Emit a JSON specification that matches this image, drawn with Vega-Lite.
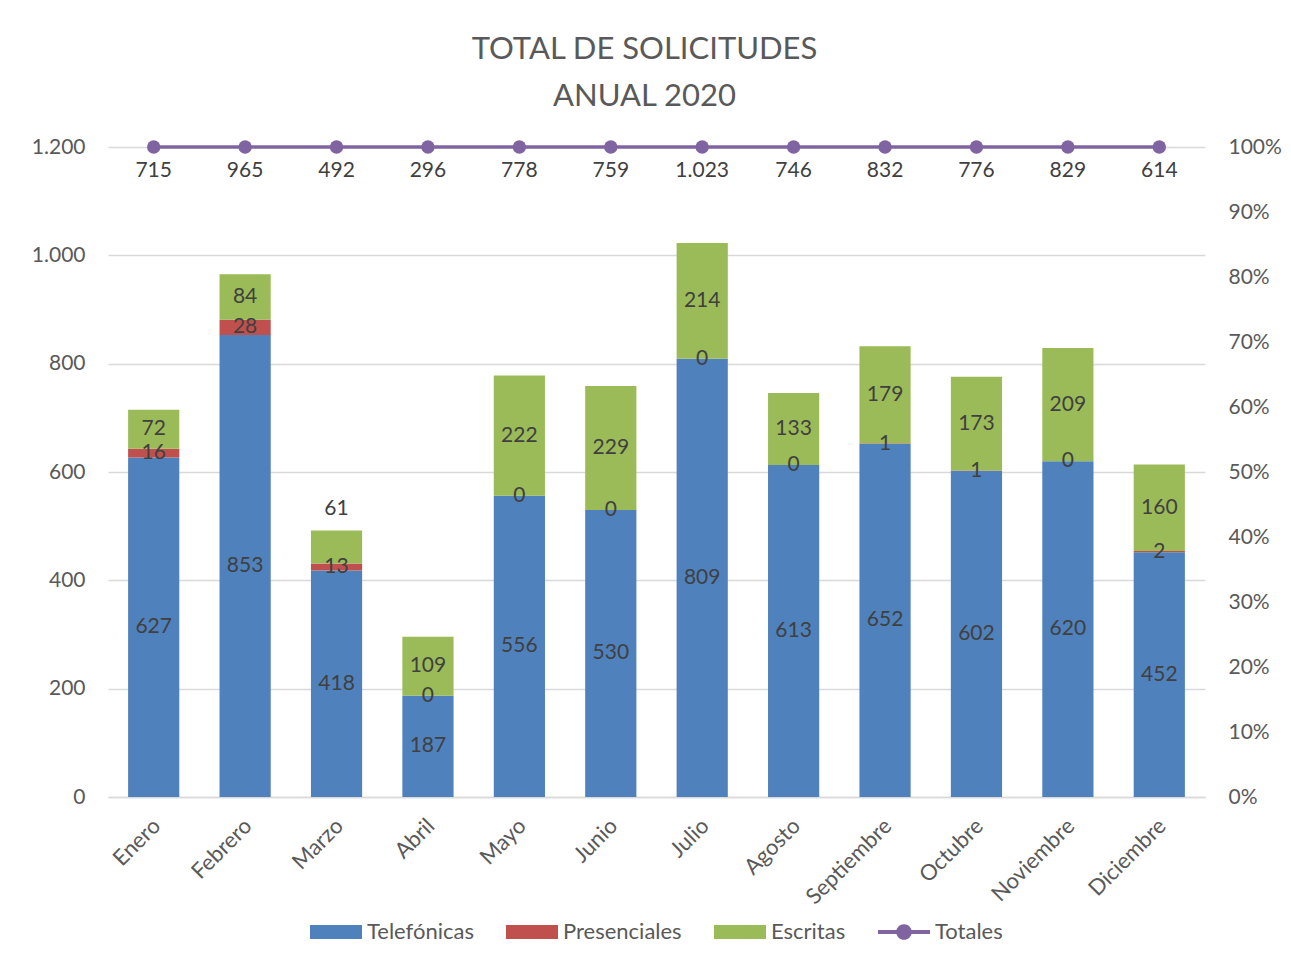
{
  "$schema": "https://vega.github.io/schema/vega-lite/v6.json",
  "width": 1097,
  "height": 650,
  "autosize": "none",
  "padding": {"left": 108, "top": 147, "right": 86, "bottom": 169},
  "background": "white",
  "title": {
    "text": ["TOTAL DE SOLICITUDES", "ANUAL 2020"],
    "font": "Lato",
    "fontSize": 31,
    "fontWeight": "normal",
    "color": "#595959",
    "lineHeight": 47,
    "anchor": "middle",
    "offset": 23,
    "dx": -12
  },
  "config": {
    "locale": {"number": {"decimal": ",", "thousands": ".", "grouping": [3], "currency": ["", " €"]}},
    "view": {"stroke": null},
    "font": "Lato",
    "axis": {"labelFont": "Lato", "labelFontSize": 21, "labelColor": "#595959", "ticks": false, "domain": false, "title": null},
    "legend": {"layout": {"bottom": {"anchor": "middle"}}}
  },
  "data": {
    "values": [
      {"month": "Enero", "serie": "Telefónicas", "value": 627},
      {"month": "Enero", "serie": "Presenciales", "value": 16},
      {"month": "Enero", "serie": "Escritas", "value": 72},
      {"month": "Febrero", "serie": "Telefónicas", "value": 853},
      {"month": "Febrero", "serie": "Presenciales", "value": 28},
      {"month": "Febrero", "serie": "Escritas", "value": 84},
      {"month": "Marzo", "serie": "Telefónicas", "value": 418},
      {"month": "Marzo", "serie": "Presenciales", "value": 13},
      {"month": "Marzo", "serie": "Escritas", "value": 61},
      {"month": "Abril", "serie": "Telefónicas", "value": 187},
      {"month": "Abril", "serie": "Presenciales", "value": 0},
      {"month": "Abril", "serie": "Escritas", "value": 109},
      {"month": "Mayo", "serie": "Telefónicas", "value": 556},
      {"month": "Mayo", "serie": "Presenciales", "value": 0},
      {"month": "Mayo", "serie": "Escritas", "value": 222},
      {"month": "Junio", "serie": "Telefónicas", "value": 530},
      {"month": "Junio", "serie": "Presenciales", "value": 0},
      {"month": "Junio", "serie": "Escritas", "value": 229},
      {"month": "Julio", "serie": "Telefónicas", "value": 809},
      {"month": "Julio", "serie": "Presenciales", "value": 0},
      {"month": "Julio", "serie": "Escritas", "value": 214},
      {"month": "Agosto", "serie": "Telefónicas", "value": 613},
      {"month": "Agosto", "serie": "Presenciales", "value": 0},
      {"month": "Agosto", "serie": "Escritas", "value": 133},
      {"month": "Septiembre", "serie": "Telefónicas", "value": 652},
      {"month": "Septiembre", "serie": "Presenciales", "value": 1},
      {"month": "Septiembre", "serie": "Escritas", "value": 179},
      {"month": "Octubre", "serie": "Telefónicas", "value": 602},
      {"month": "Octubre", "serie": "Presenciales", "value": 1},
      {"month": "Octubre", "serie": "Escritas", "value": 173},
      {"month": "Noviembre", "serie": "Telefónicas", "value": 620},
      {"month": "Noviembre", "serie": "Presenciales", "value": 0},
      {"month": "Noviembre", "serie": "Escritas", "value": 209},
      {"month": "Diciembre", "serie": "Telefónicas", "value": 452},
      {"month": "Diciembre", "serie": "Presenciales", "value": 2},
      {"month": "Diciembre", "serie": "Escritas", "value": 160}
    ]
  },
  "encoding": {
    "x": {
      "field": "month",
      "type": "nominal",
      "sort": ["Enero", "Febrero", "Marzo", "Abril", "Mayo", "Junio", "Julio", "Agosto", "Septiembre", "Octubre", "Noviembre", "Diciembre"],
      "scale": {"paddingInner": 0.44, "paddingOuter": 0.22},
      "axis": {"labelAngle": -45, "labelFontSize": 22, "domain": true, "domainColor": "#D9D9D9", "domainWidth": 1.5, "labelPadding": 18, "labelOffset": -4, "grid": false}
    }
  },
  "layer": [
    {
      "transform": [
        {"stack": "value", "groupby": ["month"], "sort": [{"field": "serie", "order": "descending"}], "as": ["y0", "y1"]}
      ],
      "layer": [
        {
          "mark": {"type": "bar"},
          "encoding": {
            "y": {
              "field": "y0",
              "type": "quantitative",
              "scale": {"domain": [0, 1200]},
              "axis": {"values": [0, 200, 400, 600, 800, 1000, 1200], "format": ",d", "grid": true, "gridColor": "#D9D9D9", "gridWidth": 1.5, "labelPadding": 23}
            },
            "y2": {"field": "y1"},
            "color": {
              "field": "serie",
              "type": "nominal",
              "scale": {
                "domain": ["Telefónicas", "Presenciales", "Escritas", "Totales"],
                "range": ["#4F81BD", "#C0504D", "#9BBB59", "#8064A2"]
              },
              "legend": {
                "orient": "bottom",
                "direction": "horizontal",
                "title": null,
                "labelFont": "Lato",
                "labelFontSize": 22,
                "labelColor": "#595959",
                "symbolSize": 2704,
                "labelOffset": 5,
                "columnPadding": 32,
                "offset": -2,
                "encode": {
                  "symbols": {
                    "update": {
                      "shape": {"signal": "datum.value === 'Totales' ? 'M-1,-0.075H1V0.075H-1Z M-0.3,0A0.3,0.3 0 1,1 0.3,0A0.3,0.3 0 1,1 -0.3,0Z' : 'M-1,-0.27H1V0.27H-1Z'"},
                      "fill": {"scale": "color", "field": "value"},
                      "stroke": {"value": "transparent"},
                      "strokeWidth": {"value": 0},
                      "opacity": {"value": 1},
                      "fillOpacity": {"value": 1}
                    }
                  }
                }
              }
            }
          }
        },
        {
          "transform": [
            {"filter": "!(datum.month === 'Marzo' && datum.serie === 'Escritas')"},
            {"fold": ["y0", "y1"], "as": ["k", "pos"]},
            {"aggregate": [{"op": "mean", "field": "pos", "as": "mid"}], "groupby": ["month", "serie", "value"]}
          ],
          "mark": {"type": "text", "font": "Lato", "fontSize": 21, "color": "#404040", "baseline": "middle"},
          "encoding": {
            "y": {"field": "mid", "type": "quantitative"},
            "text": {"field": "value", "type": "quantitative", "format": ",d"}
          }
        },
        {
          "transform": [
            {"filter": "datum.month === 'Marzo' && datum.serie === 'Escritas'"},
            {"fold": ["y0", "y1"], "as": ["k", "pos"]},
            {"aggregate": [{"op": "mean", "field": "pos", "as": "mid"}], "groupby": ["month", "serie", "value"]}
          ],
          "mark": {"type": "text", "font": "Lato", "fontSize": 21, "color": "#404040", "baseline": "middle", "dy": -38},
          "encoding": {
            "y": {"field": "mid", "type": "quantitative"},
            "text": {"field": "value", "type": "quantitative", "format": ",d"}
          }
        }
      ]
    },
    {
      "transform": [
        {"aggregate": [{"op": "sum", "field": "value", "as": "total"}], "groupby": ["month"]}
      ],
      "encoding": {
        "y": {
          "datum": 1,
          "type": "quantitative",
          "scale": {"domain": [0, 1]},
          "axis": {"orient": "right", "values": [0, 0.1, 0.2, 0.3, 0.4, 0.5, 0.6, 0.7, 0.8, 0.9, 1], "format": ".0%", "grid": false, "labelPadding": 23}
        }
      },
      "layer": [
        {
          "mark": {"type": "line", "strokeWidth": 3.5},
          "encoding": {"color": {"datum": "Totales"}}
        },
        {
          "mark": {"type": "point", "filled": true, "size": 180, "opacity": 1},
          "encoding": {"color": {"datum": "Totales"}}
        },
        {
          "mark": {"type": "text", "font": "Lato", "fontSize": 21, "color": "#404040", "baseline": "middle", "dy": 24},
          "encoding": {"text": {"field": "total", "type": "quantitative", "format": ",d"}}
        }
      ]
    }
  ],
  "resolve": {"scale": {"y": "independent"}}
}
